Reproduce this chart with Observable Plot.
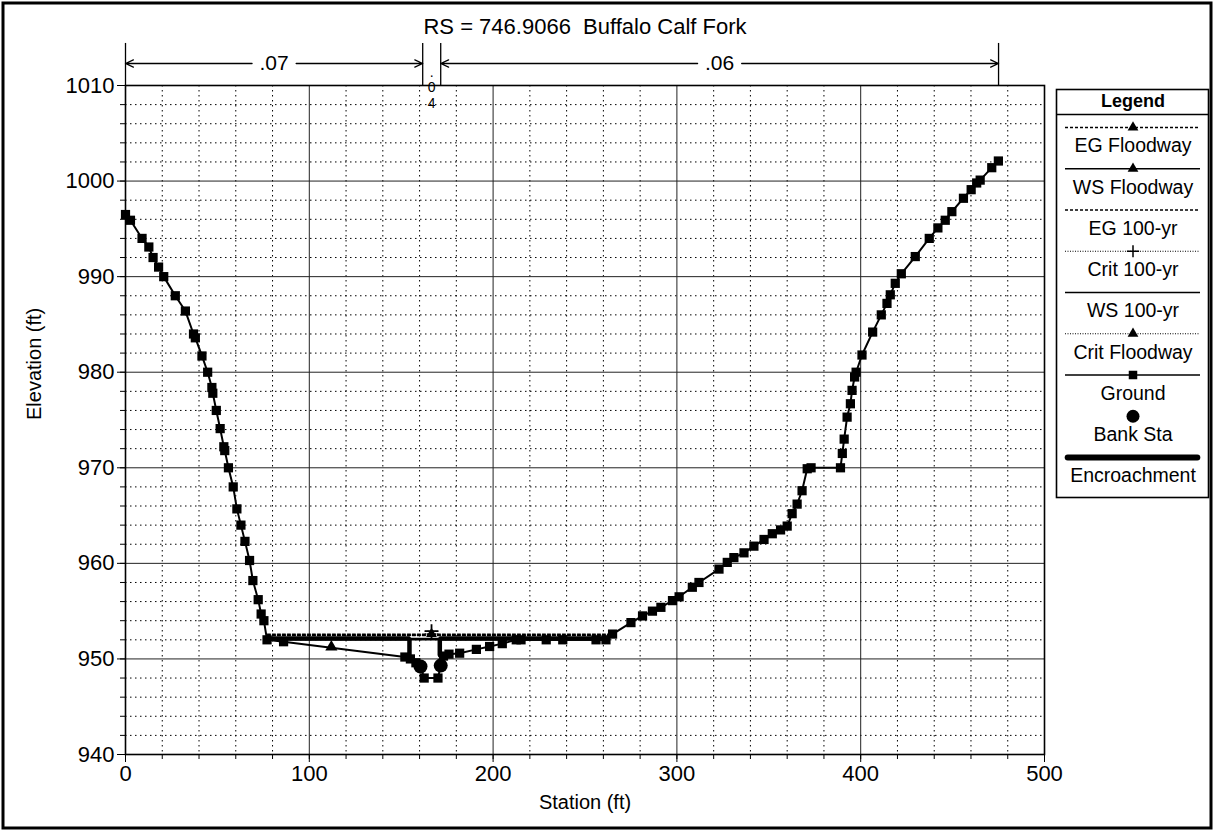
<!DOCTYPE html>
<html><head><meta charset="utf-8">
<script src="https://cdn.jsdelivr.net/npm/d3@7"></script>
<script src="https://cdn.jsdelivr.net/npm/@observablehq/plot@0.6"></script>
<style>
html,body{margin:0;padding:0;background:#fff;}
#wrap{position:relative;width:1214px;height:831px;overflow:hidden;font-family:"Liberation Sans",Arial,sans-serif;}
#legend{position:absolute;left:1056px;top:89px;}
#chart svg, #legend svg{display:block;}
</style></head><body><div id="wrap"><div id="chart"></div><div id="legend"></div></div>
<script>
// ---------------- data ----------------
const title = "RS = 746.9066\u00a0\u00a0Buffalo Calf Fork";
const xLabel = "Station (ft)";
const yLabel = "Elevation (ft)";
const xMajorTicks = [0, 100, 200, 300, 400, 500];
const yMajorTicks = [940, 950, 960, 970, 980, 990, 1000, 1010];

const groundStation = [0, 2.7, 9, 12.7, 15, 18, 20.8, 27.1, 32.6, 37, 38, 41.6, 44.7, 47, 47.5, 49.4, 51.5, 53.5, 54, 56, 58.6, 60.6, 62.8, 65, 67.5, 69.3, 72.2, 73.8, 75.3, 77, 86,
  152, 155, 158, 160.5, 162.5, 170, 171.5, 173, 176, 181.8, 190.9, 198.1, 205, 212.6, 215.2, 228.9, 237.9, 256, 261.4,
  265, 275, 281.3, 286.7, 291.3, 297.6, 301.2, 308.4, 312, 322.9, 327.4, 331, 336.5, 341.9, 347.4, 351.9, 356.4, 360, 362.7, 365.4, 368.1, 370.9, 373, 389,
  390, 391, 392.6, 394.4, 395.3, 396.7, 397.5, 400.7, 406.5, 411.2, 414.3, 416.1, 418.8, 422.1, 429.7, 437.3, 442, 446, 449.6, 455.9, 460.1, 463.1, 465, 471.3, 474.9];
const groundElev = [996.5, 995.9, 994.0, 993.1, 992.0, 991.0, 990.0, 988.0, 986.4, 984.0, 983.6, 981.7, 980.0, 978.4, 977.8, 976.0, 974.1, 972.2, 971.8, 970.0, 968.0, 965.7, 964.0, 962.3, 960.3, 958.2, 956.2, 954.7, 954.0, 952.0, 951.8,
  950.2, 950.0, 949.6, 949.2, 948.0, 948.0, 949.3, 950.3, 950.5, 950.6, 951.0, 951.3, 951.6, 952.0, 952.0, 952.0, 952.0, 952.0, 952.0,
  952.6, 953.8, 954.5, 955.0, 955.4, 956.1, 956.5, 957.5, 958.0, 959.4, 960.1, 960.6, 961.1, 961.8, 962.5, 963.1, 963.5, 963.9, 965.2, 966.2, 967.6, 969.9, 970.0, 970.0,
  971.5, 973.0, 975.3, 976.7, 978.1, 979.5, 980.0, 981.8, 984.2, 986.0, 987.2, 988.1, 989.3, 990.3, 992.1, 994.0, 995.1, 995.9, 996.8, 998.2, 999.1, 999.8, 1000.1, 1001.4, 1002.1];

const bankStation = [160.5, 171.5];
const bankElev = [949.2, 949.3];

const wsStation = [77.2, 263];
const ws100Elev = 952.0;
const wsFloodwayElev = 952.12;
const eg100Elev = 952.45;
const egFloodwayElev = 952.58;
const floodwayMarkStation = [112];
const floodwayMarkElev = [951.25];

const critStation = [163, 170];
const crit100Elev = 952.9;
const critFloodwayElev = 952.62;
const critMarkStation = 166.5;

const encLeftStation = [77.2, 154.5, 154.5];
const encLeftElev = [952.15, 952.15, 950.1];
const encRightStation = [171, 171, 262];
const encRightElev = [950.4, 952.15, 952.15];

const nBounds = [0, 161.7, 171.5, 475];
const nValues = [".07", ".04", ".06"];

const legendLabels = ["EG Floodway", "WS Floodway", "EG 100-yr", "Crit 100-yr", "WS 100-yr", "Crit Floodway", "Ground", "Bank Sta", "Encroachment"];

// ---------------- build ----------------
const font = "'Liberation Sans', Arial, sans-serif";
const ground = groundStation.map((s, i) => ({s, e: groundElev[i]}));
const banks = bankStation.map((s, i) => ({s, e: bankElev[i]}));
const hline = (elev) => wsStation.map(s => ({s, e: elev}));
const critLine = (elev) => critStation.map(s => ({s, e: elev}));
const encL = encLeftStation.map((s, i) => ({s, e: encLeftElev[i]}));
const encR = encRightStation.map((s, i) => ({s, e: encRightElev[i]}));
const fwMarks = floodwayMarkStation.map((s, i) => ({s, e: floodwayMarkElev[i]}));

const minorX = d3.range(0, 501, 20).filter(v => v % 100 !== 0);
const minorY = d3.range(940, 1011, 2).filter(v => v % 10 !== 0);

const regions = nValues.map((label, i) => ({label, a: nBounds[i], b: nBounds[i + 1], c: (nBounds[i] + nBounds[i + 1]) / 2}));
const wide = regions.filter(r => r.b - r.a > 40);
const narrow = regions.filter(r => r.b - r.a <= 40);
const narrowChars = narrow.flatMap(r => r.label.split("").map((ch, k) => ({c: r.c, ch, k})));
const gap = 12;
const arrowY = 1012.3;
const arrows = wide.flatMap(r => [{x1: r.c - gap, x2: r.a}, {x1: r.c + gap, x2: r.b}]);

const chart = Plot.plot({
  width: 1214, height: 831,
  marginLeft: 125, marginRight: 170, marginTop: 85, marginBottom: 77,
  x: {domain: [0, 500]},
  y: {domain: [940, 1010]},
  style: {fontFamily: font, fontSize: "21px", background: "white", color: "black"},
  marks: [
    Plot.ruleX(minorX, {stroke: "#000", strokeWidth: 1, strokeDasharray: "1.5,3.5"}),
    Plot.ruleY(minorY, {stroke: "#000", strokeWidth: 1, strokeDasharray: "1.5,3.5"}),
    Plot.ruleX(xMajorTicks.filter(v => v > 0 && v < 500), {stroke: "#222", strokeWidth: 1}),
    Plot.ruleY(yMajorTicks.filter(v => v > 940 && v < 1010), {stroke: "#222", strokeWidth: 1}),
    // water surfaces and energy grades
    Plot.line(hline(egFloodwayElev), {x: "s", y: "e", stroke: "black", strokeWidth: 1.3, strokeDasharray: "3,2"}),
    Plot.line(hline(eg100Elev), {x: "s", y: "e", stroke: "black", strokeWidth: 1.3, strokeDasharray: "3,2"}),
    Plot.line(hline(wsFloodwayElev), {x: "s", y: "e", stroke: "black", strokeWidth: 1.6}),
    Plot.line(hline(ws100Elev), {x: "s", y: "e", stroke: "black", strokeWidth: 1.6}),
    Plot.line(critLine(crit100Elev), {x: "s", y: "e", stroke: "black", strokeWidth: 1, strokeDasharray: "1,1.5"}),
    Plot.line(critLine(critFloodwayElev), {x: "s", y: "e", stroke: "black", strokeWidth: 1, strokeDasharray: "1,1.5"}),
    Plot.dot([{s: critMarkStation, e: crit100Elev}], {x: "s", y: "e", symbol: "plus", r: 4.5, stroke: "black", strokeWidth: 1.8}),
    Plot.dot([{s: critMarkStation, e: critFloodwayElev}], {x: "s", y: "e", symbol: "triangle", r: 4, fill: "black"}),
    // ground
    Plot.line(ground, {x: "s", y: "e", stroke: "black", strokeWidth: 2}),
    Plot.dot(ground, {x: "s", y: "e", symbol: "square", r: 5.2, fill: "black"}),
    Plot.dot(fwMarks, {x: "s", y: "e", symbol: "triangle", r: 4.5, fill: "black"}),
    // encroachments
    Plot.line(encL, {x: "s", y: "e", stroke: "black", strokeWidth: 4.5, strokeLinejoin: "miter"}),
    Plot.line(encR, {x: "s", y: "e", stroke: "black", strokeWidth: 4.5, strokeLinejoin: "miter"}),
    // bank stations
    Plot.dot(banks, {x: "s", y: "e", r: 7, fill: "black"}),
    // frame & axes
    Plot.frame({stroke: "black", strokeWidth: 1.6}),
    Plot.axisX(xMajorTicks, {tickSize: 8, tickPadding: 3, fontSize: 22, label: null}),
    Plot.axisX(d3.range(0, 501, 20), {tickSize: 5, tickFormat: () => "", label: null}),
    Plot.axisY(yMajorTicks, {tickSize: 8, tickPadding: 3, fontSize: 22, label: null, tickFormat: d3.format("d")}),
    Plot.axisY(d3.range(940, 1011, 2), {tickSize: 5, tickFormat: () => "", label: null}),
    Plot.text([xLabel], {frameAnchor: "bottom", dy: 48, fontSize: 20, lineAnchor: "middle"}),
    Plot.text([yLabel], {frameAnchor: "left", dx: -91, rotate: -90, fontSize: 20}),
    Plot.text([title], {frameAnchor: "top", dy: -59, fontSize: 22, lineAnchor: "middle"}),
    // Manning's n annotation
    Plot.ruleX(nBounds, {y1: 1010, y2: 1014.4, stroke: "black", strokeWidth: 1.3}),
    Plot.arrow(arrows, {x1: "x1", x2: "x2", y1: arrowY, y2: arrowY, stroke: "black", strokeWidth: 1.3, headLength: 10, headAngle: 50, inset: 0}),
    Plot.text(wide, {x: "c", y: arrowY, text: "label", fontSize: 21}),
    Plot.text(narrowChars, {x: "c", y: d => 1011.4 - d.k * 1.65, text: "ch", fontSize: 14})
  ]
});
document.getElementById("chart").append(chart);

// outer border
d3.select(chart).append("rect").attr("x", 3).attr("y", 3).attr("width", 1208).attr("height", 825)
  .attr("fill", "none").attr("stroke", "black").attr("stroke-width", 3);

// ---------------- legend ----------------
const seriesStyle = {
  "EG Floodway": {line: true, dash: "3,2", w: 1.3, symbol: "triangle"},
  "WS Floodway": {line: true, dash: null, w: 1.6, symbol: "triangle"},
  "EG 100-yr": {line: true, dash: "3,2", w: 1.3},
  "Crit 100-yr": {line: true, dash: "1,1.5", w: 1, symbol: "plus"},
  "WS 100-yr": {line: true, dash: null, w: 1.6},
  "Crit Floodway": {line: true, dash: "1,1.5", w: 1, symbol: "triangle"},
  "Ground": {line: true, dash: null, w: 1.6, symbol: "square"},
  "Bank Sta": {line: false, symbol: "circle"},
  "Encroachment": {line: true, dash: null, w: 6, cap: "round"}
};
const rows = legendLabels.map((label, i) => ({label, i, ...seriesStyle[label]}));
const legendMarks = [Plot.frame({stroke: "black", strokeWidth: 1.6})];
rows.forEach(r => {
  if (r.line) legendMarks.push(Plot.ruleY([r.i], {x1: r.cap ? 0.02 : 0, x2: r.cap ? 0.98 : 1, stroke: "black", strokeWidth: r.w, strokeDasharray: r.dash || undefined, strokeLinecap: r.cap || "butt"}));
  if (r.symbol === "plus") legendMarks.push(Plot.dot([r.i], {x: 0.5, y: d => d, symbol: "plus", r: 4, stroke: "black", strokeWidth: 1.5}));
  else if (r.symbol === "circle") legendMarks.push(Plot.dot([r.i], {x: 0.5, y: d => d, r: 6.5, fill: "black"}));
  else if (r.symbol) legendMarks.push(Plot.dot([r.i], {x: 0.5, y: d => d, symbol: r.symbol, r: r.symbol === "square" ? 4.8 : 4, fill: "black"}));
});
legendMarks.push(Plot.text(rows, {x: 0.5, y: d => d.i + 0.45, text: "label", fontSize: 19.5}));
legendMarks.push(Plot.ruleY([-0.315], {stroke: "black", strokeWidth: 1.3}));
legendMarks.push(Plot.text(["Legend"], {x: 0.5, y: -0.64, fontSize: 18, fontWeight: "bold"}));

const legend = Plot.plot({
  width: 152, height: 408, margin: 0,
  x: {domain: [0, 1], range: [9, 144], axis: null},
  y: {domain: [0, 8], range: [38, 368], axis: null},
  style: {fontFamily: font, background: "white", color: "black", overflow: "visible"},
  marks: legendMarks
});
document.getElementById("legend").append(legend);
</script></body></html>
